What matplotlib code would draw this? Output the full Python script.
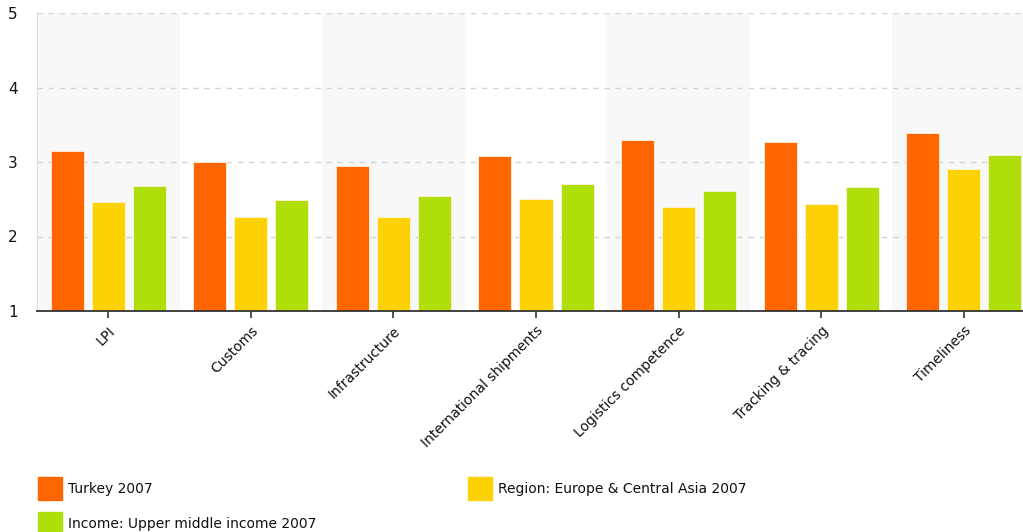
import matplotlib.pyplot as plt
import numpy as np
from matplotlib.patches import Rectangle

# LPI scores
categories = ['LPI', 'Customs', 'Infrastructure', 'International shipments',
              'Logistics competence', 'Tracking & tracing', 'Timeliness']
turkey = [3.15, 3.00, 2.94, 3.08, 3.29, 3.27, 3.39]
region = [2.46, 2.26, 2.26, 2.50, 2.39, 2.44, 2.91]
income = [2.68, 2.49, 2.54, 2.70, 2.61, 2.66, 3.10]
series_names = ['Turkey 2007', 'Region: Europe & Central Asia 2007',
                'Income: Upper middle income 2007']
colors = ['#FF6600', '#FCD202', '#B0DE09']

W, H = 1023, 532
fig = plt.figure(figsize=(W / 100, H / 100), dpi=100)
ax = fig.add_axes([37 / W, (H - 311) / H, 998 / W, 298 / H])

x = np.arange(len(categories))
ax.set_xlim(-0.5, len(categories) - 0.5)
ax.set_ylim(1, 5)

# alternating background bands
for i in range(0, len(categories), 2):
    ax.axvspan(i - 0.5, i + 0.5, color='#F8F8F8', zorder=0, lw=0)

for v in [2, 3, 4, 5]:
    ax.axhline(v, color='#D4D4D4', lw=1, ls=(0, (4, 4)), zorder=1)

bw = 0.232
off = 0.288
for k, vals in enumerate([turkey, region, income]):
    ax.bar(x + (k - 1) * off, np.array(vals) - 1, bw, bottom=1, color=colors[k],
           edgecolor='#FFF2E0', lw=0.6, zorder=2)

for s in ['top', 'right']:
    ax.spines[s].set_visible(False)
ax.spines['left'].set_color('#DDDDDD')
ax.spines['bottom'].set_color('#333333')
ax.spines['bottom'].set_linewidth(1.3)
ax.spines['bottom'].set_zorder(3)

ax.set_yticks([1, 2, 3, 4, 5])
ax.tick_params(axis='y', length=0, pad=14, labelsize=11, labelcolor='#111111')
ax.set_xticks(x)
ax.set_xticklabels(categories, rotation=45, ha='right', rotation_mode='anchor',
                   fontsize=10, color='#111111')
ax.tick_params(axis='x', length=5, width=1.2, color='#333333', pad=4)

# legend drawn below the chart
def legend_item(px, py, color, label):
    fig.patches.append(Rectangle((px / W, 1 - (py + 23) / H), 24 / W, 23 / H,
                                 transform=fig.transFigure, color=color))
    fig.text((px + 30) / W, 1 - (py + 12) / H, label, fontsize=10,
             va='center', ha='left', color='#111111')

legend_item(38, 477, colors[0], series_names[0])
legend_item(468, 477, colors[1], series_names[1])
legend_item(38, 512, colors[2], series_names[2])

fig.savefig('out.png', dpi=100)
